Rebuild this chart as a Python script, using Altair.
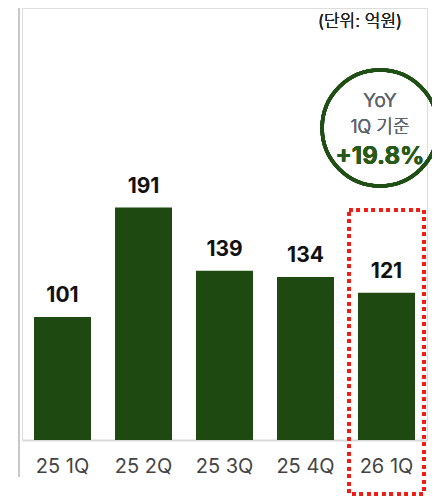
import altair as alt
import pandas as pd

categories = ["25 1Q", "25 2Q", "25 3Q", "25 4Q", "26 1Q"]
values = [101, 191, 139, 134, 121]
unit_label = "(단위: 억원)"
badge_lines = ["YoY", "1Q 기준"]
badge_value = "+19.8%"

FONT = "Inter, Noto Sans CJK KR, sans-serif"
GREEN = "#1e4a12"

df = pd.DataFrame({"cat": categories, "val": values})

x_enc = alt.X("cat:N", sort=categories,
              scale=alt.Scale(paddingInner=0.296, paddingOuter=0.148),
              axis=alt.Axis(title=None, labelAngle=0, labelFontSize=20, labelColor="#444444",
                            labelFont=FONT, ticks=False, labelPadding=16,
                            domain=True, domainColor="#d9d9d9", domainWidth=2, grid=False))
y_enc = alt.Y("val:Q", scale=alt.Scale(domain=[0, 355], nice=False, zero=True), axis=None)

bars = alt.Chart(df).mark_bar(color=GREEN).encode(x=x_enc, y=y_enc)
labels = alt.Chart(df).mark_text(baseline="alphabetic", dy=-15, fontSize=21, fontWeight="bold",
                                 color="#111111", font=FONT).encode(
    x=alt.X("cat:N", sort=categories), y="val:Q", text="val:Q")

vline = alt.Chart(df).mark_rule(color="#c8c8c8", strokeWidth=2).encode(
    x=alt.value(-3), y=alt.value(-8), y2=alt.value(469))

box = alt.Chart(df).mark_rect(fill=None, stroke="#ee1c12", strokeWidth=3.5,
                              strokeDash=[3.5, 4]).encode(
    x=alt.value(327), x2=alt.value(402), y=alt.value(202), y2=alt.value(486))

unit = alt.Chart(df).mark_text(align="right", baseline="middle", fontSize=17, fontWeight=300,
                               color="#222222", font=FONT).encode(
    x=alt.value(380), y=alt.value(14), text=alt.value(unit_label))

circle = alt.Chart(df).mark_point(shape="circle", filled=False, size=13400,
                                  color="#1f4f14", strokeWidth=3.5, opacity=1).encode(
    x=alt.value(358), y=alt.value(120))

t1 = alt.Chart(df).mark_text(align="center", baseline="middle", fontSize=19, fontWeight=300,
                             color="#5f646c", font=FONT).encode(
    x=alt.value(358), y=alt.value(93), text=alt.value(badge_lines[0]))
t2 = alt.Chart(df).mark_text(align="center", baseline="middle", fontSize=18, fontWeight=300,
                             color="#5f646c", font=FONT).encode(
    x=alt.value(358), y=alt.value(120), text=alt.value(badge_lines[1]))
t3 = alt.Chart(df).mark_text(align="center", baseline="middle", fontSize=24, fontWeight="bold",
                             color="#285a1a", font=FONT).encode(
    x=alt.value(358), y=alt.value(149), text=alt.value(badge_value))

chart = alt.layer(bars, labels, vline, box, unit, circle, t1, t2, t3).properties(
    width=405, height=432,
    autosize=alt.AutoSizeParams(type="none"),
    padding={"left": 14, "top": 0, "right": 5, "bottom": 57},
).configure_view(stroke=None).configure(background="white")

chart.save("out.html", embed_options={"renderer": "svg", "actions": False})
